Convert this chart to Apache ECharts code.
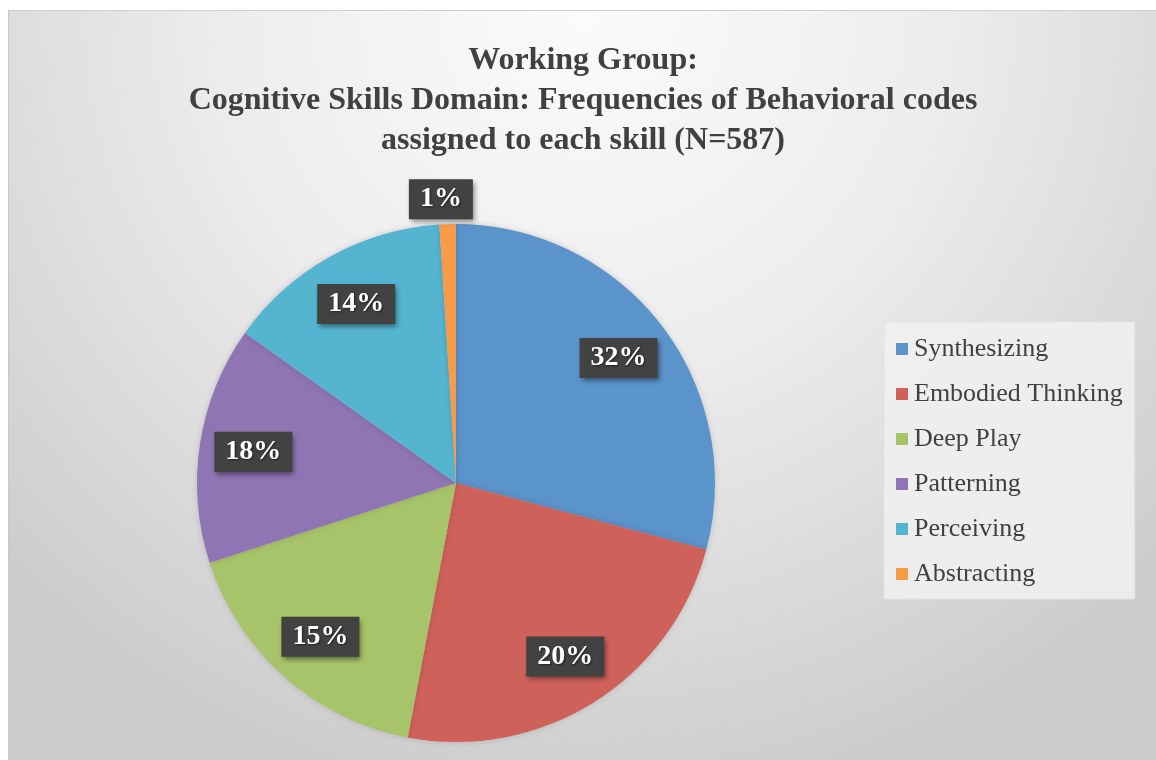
<!DOCTYPE html>
<html>
<head>
<meta charset="utf-8">
<script src="https://cdn.jsdelivr.net/npm/echarts@6/dist/echarts.min.js"></script>
<style>
  html, body { margin: 0; padding: 0; background: #ffffff; width: 1156px; height: 760px; overflow: hidden; }
  #frame { position: absolute; left: 8px; top: 10px; width: 1148px; height: 750px; border-left: 1px solid #c8c8c8; border-top: 1px solid #d0d0d0; }
  #chart { width: 1148px; height: 750px; }
</style>
</head>
<body>
<div id="frame"><div id="chart"></div></div>
<script>
// ---- data ----
const titleLines = [
  'Working Group:',
  'Cognitive Skills Domain: Frequencies of Behavioral codes',
  'assigned to each skill (N=587)'
];
const categories = ['Synthesizing', 'Embodied Thinking', 'Deep Play', 'Patterning', 'Perceiving', 'Abstracting'];
// slice sizes (counts, N = 587)
const counts = [171, 140, 100, 87, 83, 6];
// the percentage labels as printed on the chart
const percentLabels = ['32%', '20%', '15%', '18%', '14%', '1%'];
const colors = ['#5b93cb', '#cf615b', '#a8c46a', '#8f75b3', '#55b5d0', '#f79b48'];

const chart = echarts.init(document.getElementById('chart'), null, { renderer: 'canvas' });

const CX = 447, CY = 472, R = 259;
const LABEL_R_FRAC = 0.78;
const serif = '"Liberation Serif", "Times New Roman", serif';

const labelBox = {
  color: '#ffffff',
  fontFamily: serif,
  fontWeight: 'bold',
  fontSize: 28,
  lineHeight: 32,
  backgroundColor: '#424242',
  padding: [4, 11, 4, 11],
  shadowColor: 'rgba(0,0,0,0.45)',
  shadowBlur: 5,
  shadowOffsetX: 2,
  shadowOffsetY: 3,
  textShadowColor: 'rgba(0,0,0,0.5)',
  textShadowBlur: 2,
  textShadowOffsetX: 1,
  textShadowOffsetY: 1
};

const mainData = categories.map((name, i) => {
  const item = { name: name, value: counts[i], itemStyle: { color: colors[i] } };
  if (i === categories.length - 1) {
    item.label = Object.assign({ show: true, position: 'outside', formatter: percentLabels[i], distanceToLabelLine: -26 }, labelBox);
    item.labelLine = { show: false, length: 25, length2: 0 };
  }
  return item;
});

const overlayData = categories.map((name, i) => ({
  name: name,
  value: counts[i],
  itemStyle: { color: 'rgba(0,0,0,0)' },
  label: { show: i !== categories.length - 1, formatter: percentLabels[i] }
}));

chart.setOption({
  backgroundColor: new echarts.graphic.RadialGradient(0.5, 0.0, 1.05, [
    { offset: 0, color: '#fbfbfb' },
    { offset: 0.45, color: '#ededed' },
    { offset: 1, color: '#cdcdcd' }
  ]),
  animation: false,
  color: colors,
  title: {
    text: titleLines.join('\n'),
    left: 'center',
    top: 25,
    textStyle: {
      fontFamily: serif,
      fontWeight: 'bold',
      fontSize: 32,
      lineHeight: 40,
      color: '#404040'
    }
  },
  legend: {
    orient: 'vertical',
    left: 875,
    top: 311,
    data: categories,
    icon: 'rect',
    itemWidth: 12,
    itemHeight: 12,
    itemGap: 15,
    padding: [12, 12, 10, 12],
    backgroundColor: 'rgba(240,240,240,0.9)',
    borderColor: '#e2e2e2',
    borderWidth: 1,
    selectedMode: false,
    textStyle: {
      fontFamily: serif,
      fontSize: 26,
      lineHeight: 30,
      color: '#404040',
      padding: [0, 0, 0, 1]
    }
  },
  series: [
    {
      type: 'pie',
      name: 'main',
      center: [CX, CY],
      radius: [0, R],
      startAngle: 90,
      clockwise: true,
      avoidLabelOverlap: false,
      silent: true,
      label: { show: false },
      labelLine: { show: false },
      itemStyle: { borderWidth: 0, shadowColor: 'rgba(0,0,0,0.15)', shadowBlur: 6 },
      data: mainData
    },
    {
      type: 'pie',
      name: 'labels',
      center: [CX, CY],
      radius: [0, 2 * LABEL_R_FRAC * R],
      startAngle: 90,
      clockwise: true,
      avoidLabelOverlap: false,
      silent: true,
      z: 5,
      legendHoverLink: false,
      label: Object.assign({ position: 'inside' }, labelBox),
      labelLine: { show: false },
      emphasis: { disabled: true },
      data: overlayData
    }
  ]
});
</script>
</body>
</html>
